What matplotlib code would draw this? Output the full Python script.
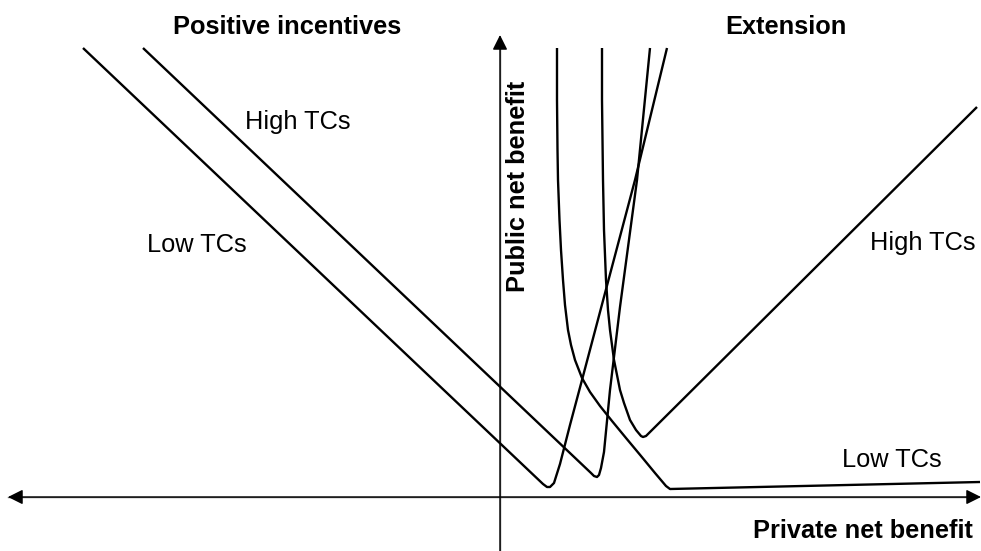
"""
Conceptual diagram: positive incentives vs extension, public vs private net benefit.
Coordinates are offsets (px) from the axis origin.
"""

import matplotlib

matplotlib.use("Agg")
import matplotlib.pyplot as plt

plt.rcParams["font.family"] = ["Liberation Sans", "DejaVu Sans"]

# positive incentives, low transaction costs
pi_low_x = [-417, 43, 47, 50, 54, 60, 70, 82, 100, 135, 167]
pi_low_y = [449, 13, 10, 10, 14, 33, 72, 117, 185, 317, 449]

# positive incentives, high transaction costs
pi_high_x = [-357, 91, 94, 97, 99, 101, 104, 110, 120, 137, 150]
pi_high_y = [449, 24, 21, 20, 22, 29, 45, 107, 190, 317, 449]

# extension, low transaction costs
ext_low_x = [57, 57, 57.5, 58, 59.5, 61, 63, 65, 68, 71, 75, 82, 90,
             100, 112, 126, 141, 155, 166, 170, 480]
ext_low_y = [449, 397, 347, 317, 277, 247, 217, 192, 167, 152, 137, 119, 105,
             91, 76, 59, 41, 24, 11, 8, 15]

# extension, high transaction costs
ext_high_x = [102, 102, 103, 104, 106, 108, 110, 112, 114, 117, 120, 124,
              130, 136, 141, 143, 146, 477]
ext_high_y = [449, 397, 317, 267, 217, 187, 167, 152, 137, 122, 107, 94,
              77, 67, 61, 60, 61, 390]

CURVES = [
    (pi_low_x, pi_low_y),
    (pi_high_x, pi_high_y),
    (ext_low_x, ext_low_y),
    (ext_high_x, ext_high_y),
]

LABELS = [
    ("Positive incentives", -213, 470, "center", "bold"),
    ("Extension", 286, 470, "center", "bold"),
    ("High TCs", -255, 375, "left", "normal"),
    ("Low TCs", -353, 252, "left", "normal"),
    ("High TCs", 370, 254, "left", "normal"),
    ("Low TCs", 342, 37, "left", "normal"),
]


def main():
    fig = plt.figure(figsize=(9.81, 5.51), dpi=100)
    ax = fig.add_axes([0, 0, 1, 1])
    ax.set_xlim(-500, 481)
    ax.set_ylim(-54, 497)
    ax.axis("off")

    # axes arrows
    ax.annotate(
        "", xy=(481, 0), xytext=(-492, 0),
        arrowprops=dict(arrowstyle="<|-|>,head_length=0.9,head_width=0.45",
                        color="black", lw=1.0, shrinkA=0, shrinkB=0),
    )
    ax.plot([-492, 470], [0, 0], color="#666666", lw=1.0)
    ax.annotate(
        "", xy=(0, 462), xytext=(0, -54),
        arrowprops=dict(arrowstyle="-|>,head_length=0.9,head_width=0.45",
                        color="black", lw=1.0, shrinkA=0, shrinkB=0),
    )
    ax.plot([0, 0], [-54, 450], color="#666666", lw=1.0)

    for xs, ys in CURVES:
        ax.plot(xs, ys, color="black", lw=1.7, solid_joinstyle="round",
                solid_capstyle="butt")

    for text, x, y, ha, weight in LABELS:
        ax.text(x, y, text, ha=ha, va="center", fontsize=18.3, fontweight=weight)

    ax.text(18, 311, "Public net benefit", rotation=90, ha="center", va="center",
            fontsize=18.3, fontweight="bold")
    ax.text(473, -34, "Private net benefit", ha="right", va="center",
            fontsize=18.3, fontweight="bold")

    fig.savefig("out.png", dpi=100, facecolor="white")
    plt.close(fig)


if __name__ == "__main__":
    main()
